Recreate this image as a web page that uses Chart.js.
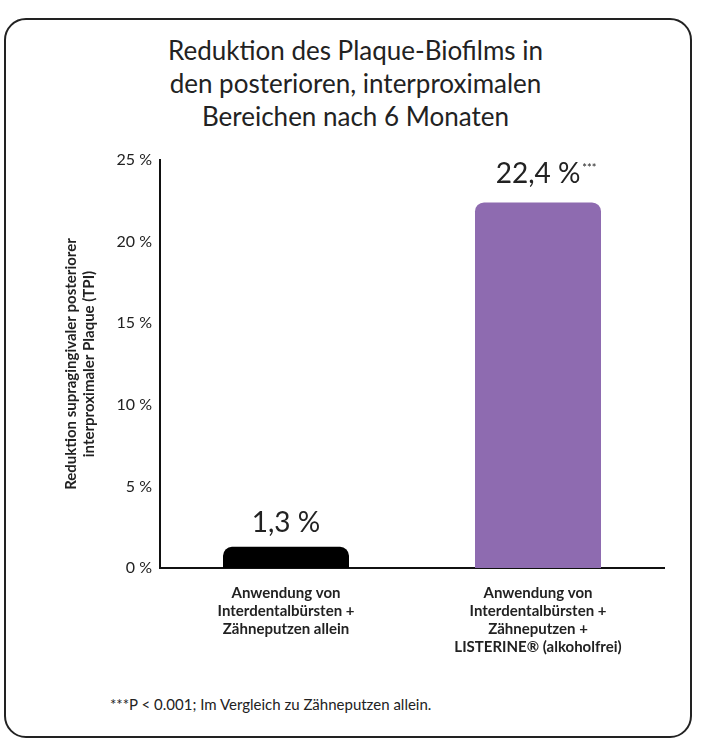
<!DOCTYPE html>
<html><head><meta charset="utf-8">
<script src="https://cdn.jsdelivr.net/npm/chart.js@4/dist/chart.umd.min.js"></script>
<style>
body{margin:0;background:#fff;font-family:Lato,"Open Sans",sans-serif;}
#box{position:absolute;left:4px;top:18px;width:684px;height:716px;border:2px solid #222;border-radius:22px;}
#t{position:absolute;left:0;width:711px;top:34px;text-align:center;font-size:26px;line-height:33px;color:#222;}
#f{position:absolute;left:110px;top:695px;font-size:15px;color:#222;}
canvas{position:absolute;left:0;top:0;}
</style></head><body>
<div id="box"></div>
<div id="t">Reduktion des Plaque-Biofilms in<br>den posterioren, interproximalen<br>Bereichen nach 6 Monaten</div>
<div id="f">***P &lt; 0.001; Im Vergleich zu Zähneputzen allein.</div>
<div style="position:absolute;left:0;top:0;width:711px;height:750px"><canvas id="c"></canvas></div>
<script>
const categories=[["Anwendung von","Interdentalbürsten +","Zähneputzen allein"],["Anwendung von","Interdentalbürsten +","Zähneputzen +","LISTERINE® (alkoholfrei)"]];
const values=[1.3,22.4];
const valueLabels=["1,3 %","22,4 %"];
const valueMarks=["","***"];
const colors=["#000000","#8e6bb0"];
const yTicks=[0,5,10,15,20,25];
const labelPlugin={id:'vl',afterDatasetsDraw(ch){const ctx=ch.ctx;const m=ch.getDatasetMeta(0);
 m.data.forEach((b,i)=>{ctx.save();ctx.fillStyle='#222';ctx.font='28px Lato';ctx.textAlign='center';ctx.textBaseline='bottom';
 const y=b.y-(i==1?14:10);ctx.fillText(valueLabels[i],b.x,y);
 if(valueMarks[i]){const w=ctx.measureText(valueLabels[i]).width;ctx.font='11px Lato';ctx.textAlign='left';ctx.fillText(valueMarks[i],b.x+w/2+2,y-14);}
 ctx.restore();});}};
new Chart(document.getElementById('c'),{type:'bar',
data:{labels:categories,datasets:[{data:values,backgroundColor:colors,barPercentage:0.5,categoryPercentage:1,
 borderRadius:{topLeft:9,topRight:9,bottomLeft:0,bottomRight:0},borderSkipped:'bottom'}]},
options:{responsive:true,maintainAspectRatio:false,animation:false,
 layout:{padding:{top:160,right:47,left:58,bottom:0}},
 plugins:{legend:{display:false},tooltip:{enabled:false}},
 scales:{
  y:{min:0,max:25,afterFit:s=>{s.width=102;},afterBuildTicks:s=>{s.ticks=yTicks.map(v=>({value:v}));},
   ticks:{callback:v=>v+' %',color:'#222',font:{size:16,family:'Lato'},padding:8},
   grid:{display:false,drawTicks:false},border:{color:'#111',width:2},
   title:{display:true,text:['Reduktion supragingivaler posteriorer','interproximaler Plaque (TPI)'],color:'#222',font:{size:15,weight:'bold',family:'Lato'},padding:{bottom:4}}},
  x:{afterFit:s=>{s.height=182;},grid:{display:false,drawTicks:false},border:{color:'#111',width:2},
   ticks:{color:'#222',font:{size:15,weight:'bold',family:'Lato'},padding:16,maxRotation:0}}}},
plugins:[labelPlugin]});
</script></body></html>
